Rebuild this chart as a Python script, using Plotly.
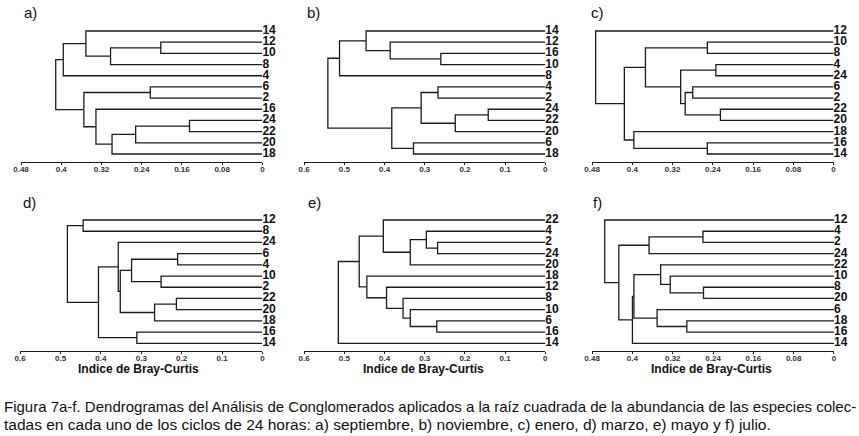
import plotly.graph_objects as go

W, H = 859, 436

# ---- data: dendrograms as (merge height, left, right); leaves are labels ----
tree_a = (0.411,
          (0.396, (0.351, "14", (0.302, (0.202, "12", "10"), "8")), "4"),
          (0.355, (0.223, "6", "2"),
           (0.331, "16", (0.299, (0.252, (0.145, "24", "22"), "20"), "18"))))
tree_b = (0.541,
          (0.512, (0.446, "14", (0.386, "12", (0.260, "16", "10"))), "8"),
          (0.382, (0.309, (0.267, "4", "2"), (0.224, (0.142, "24", "22"), "20")),
           (0.328, "6", "18")))
tree_c = (0.473, "12",
          (0.416,
           (0.374, (0.251, "10", "8"),
            (0.304, (0.234, "4", "24"), (0.295, (0.280, "6", "2"), (0.225, "22", "20")))),
           (0.397, "18", (0.251, "16", "14"))))
tree_d = (0.483, (0.444, "12", "8"),
          (0.406,
           (0.357, "24",
            (0.352, (0.324, (0.210, "6", "4"), (0.251, "10", "2")),
             (0.267, (0.213, "22", "20"), "18"))),
           (0.311, "16", "14")))
tree_e = (0.515,
          (0.463,
           (0.403, "22", (0.336, (0.296, "4", (0.268, "2", "24")), "20")),
           (0.444, "18", (0.395, "12", (0.354, "8", (0.336, "10", (0.270, "6", "16")))))),
          "14")
tree_f = (0.455, "12",
          (0.427, (0.367, (0.260, "4", "2"), "24"),
           (0.400,
            (0.397, (0.344, "22", (0.325, "10", (0.259, "8", "20"))),
             (0.351, "6", (0.292, "18", "16"))),
            "14")))

panel_titles = ["a)", "b)", "c)", "d)", "e)", "f)"]
trees = [tree_a, tree_b, tree_c, tree_d, tree_e, tree_f]
ticks_048 = [0.48, 0.4, 0.32, 0.24, 0.16, 0.08, 0]
ticktext_048 = ["0.48", "0.4", "0.32", "0.24", "0.16", "0.08", "0"]
ticks_06 = [0.6, 0.5, 0.4, 0.3, 0.2, 0.1, 0]
ticktext_06 = ["0.6", "0.5", "0.4", "0.3", "0.2", "0.1", "0"]
axis_max = [0.48, 0.6, 0.48, 0.6, 0.6, 0.48]
axis_label = "Indice de Bray-Curtis"
caption_1 = ("Figura 7a-f. Dendrogramas del Análisis de Conglomerados aplicados a la raíz "
             "cuadrada de la abundancia de las especies colec-")
caption_2 = ("tadas en cada uno de los ciclos de 24 horas: a) septiembre, b) noviembre, "
             "c) enero, d) marzo, e) mayo y f) julio.")

# ---- layout geometry (reference pixels) ----
xdom_px = [(13.2, 257.7), (300, 544.3), (591.7, 836.3),
           (12.3, 257.7), (300, 544.3), (591.7, 836.7)]
ydom_px = [(24.3, 162), (213.3, 351)]
yrange = [(11.716, -0.6), (11.687, -0.6)]
title_px = [(23, 12), (309, 12), (597, 12), (22, 203), (310, 203), (597, 203)]
xlabel_px = [(132, 369), (421, 369), (713, 369)]
caption_px = [(-6, 406, 15.0), (-6, 424, 15.5)]


def fx(px):
    return px / W


def fy(py):
    return 1 - py / H


LINE = "#1c1c1c"
FONT = "Liberation Sans, Arial, sans-serif"


def build(tree):
    xs, ys, labels = [], [], []
    counter = [0]

    def rec(t):
        if isinstance(t, str):
            i = counter[0]
            counter[0] += 1
            labels.append(t)
            return 0.0, float(i)
        h, left, right = t
        hl, yl = rec(left)
        hr, yr = rec(right)
        xs.extend([hl, h, h, hr, None])
        ys.extend([yl, yl, yr, yr, None])
        return h, (yl + yr) / 2

    rec(tree)
    return xs, ys, labels


fig = go.Figure()
layout = {}
for k, tree in enumerate(trees):
    n = k + 1
    xs, ys, labels = build(tree)
    xa = "x" if n == 1 else f"x{n}"
    ya = "y" if n == 1 else f"y{n}"
    fig.add_trace(go.Scatter(x=xs, y=ys, mode="lines", xaxis=xa, yaxis=ya,
                             line=dict(color=LINE, width=1.3), cliponaxis=False,
                             hoverinfo="skip", showlegend=False))
    fig.add_trace(go.Scatter(x=[0] * len(labels), y=list(range(len(labels))),
                             mode="text", text=labels, textposition="middle right",
                             textfont=dict(family=FONT, size=12, color="#111", weight="bold"),
                             xaxis=xa, yaxis=ya, cliponaxis=False,
                             hoverinfo="skip", showlegend=False))
    row = 0 if k < 3 else 1
    x0, x1 = xdom_px[k]
    t0, t1 = ydom_px[row]
    big = axis_max[k] == 0.6
    layout["xaxis" if n == 1 else f"xaxis{n}"] = dict(
        domain=[fx(x0), fx(x1)], range=[axis_max[k], 0], anchor=ya,
        showgrid=False, zeroline=False, showline=True, linecolor=LINE, linewidth=1.2,
        ticks="outside", ticklen=2, tickwidth=1, tickcolor=LINE,
        ticklabelstandoff=-3,
        tickvals=ticks_06 if big else ticks_048,
        ticktext=ticktext_06 if big else ticktext_048,
        tickfont=dict(family=FONT, size=8, color="#333", weight="bold"),
        fixedrange=True)
    layout["yaxis" if n == 1 else f"yaxis{n}"] = dict(
        domain=[fy(t1), fy(t0)], range=list(yrange[row]), anchor=xa,
        visible=False, fixedrange=True)

annotations = []
for (px, py), t in zip(title_px, panel_titles):
    annotations.append(dict(x=fx(px), y=fy(py), xref="paper", yref="paper",
                            text=t, showarrow=False, xanchor="center", yanchor="middle",
                            font=dict(family=FONT, size=15, color="#111")))
for px, py in xlabel_px:
    annotations.append(dict(x=fx(px), y=fy(py), xref="paper", yref="paper",
                            text=axis_label, showarrow=False, xanchor="center",
                            yanchor="middle",
                            font=dict(family=FONT, size=12, color="#111", weight="bold")))
for txt, (px, py, fs) in zip([caption_1, caption_2], caption_px):
    annotations.append(dict(x=fx(px), y=fy(py), xref="paper", yref="paper",
                            text=txt, showarrow=False, xanchor="left", yanchor="middle",
                            align="left",
                            font=dict(family=FONT, size=fs, color="#111")))

fig.update_layout(width=W, height=H, margin=dict(l=0, r=0, t=0, b=0),
                  paper_bgcolor="white", plot_bgcolor="white",
                  annotations=annotations, **layout)
fig.write_html("out.html", config={"displayModeBar": False, "staticPlot": True},
               post_script="document.body.style.margin='0px';")
